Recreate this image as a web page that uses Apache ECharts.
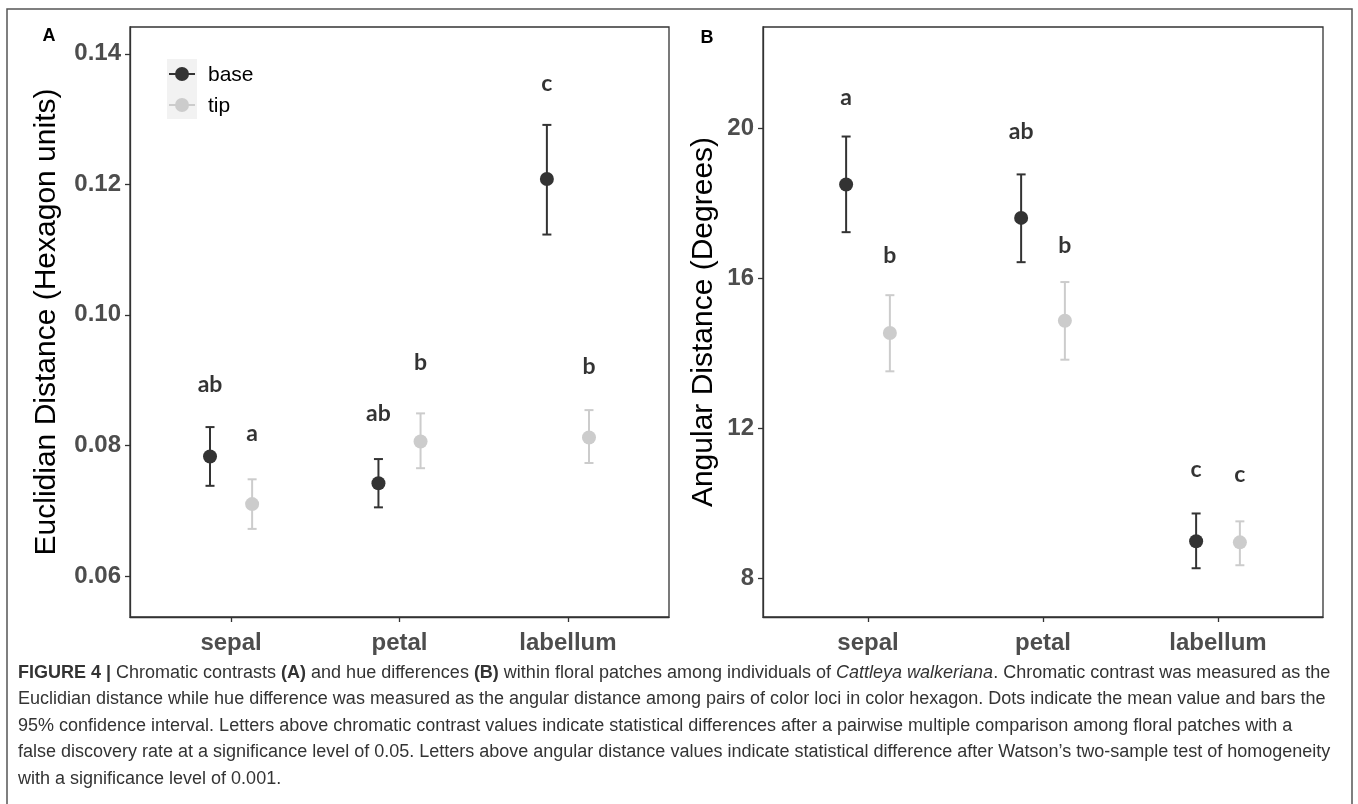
<!DOCTYPE html>
<html>
<head>
<meta charset="utf-8">
<script src="https://cdn.jsdelivr.net/npm/echarts@6/dist/echarts.min.js"></script>
<style>
  html, body { margin: 0; padding: 0; background: #fff; }
  #main { width: 1358px; height: 804px; }
</style>
</head>
<body>
<div id="main"></div>
<script>
// data
var categories = ['sepal', 'petal', 'labellum'];

// panel A - euclidian distance (hexagon units)
var euclidBaseMean = [0.0783, 0.0742, 0.1208];
var euclidBaseLow  = [0.0738, 0.0705, 0.1123];
var euclidBaseHigh = [0.0828, 0.0779, 0.1291];
var euclidTipMean  = [0.0710, 0.0806, 0.0812];
var euclidTipLow   = [0.0672, 0.0765, 0.0773];
var euclidTipHigh  = [0.0748, 0.0849, 0.0854];
var euclidBaseLetters = ['ab', 'ab', 'c'];
var euclidBaseLetterY = [0.0893, 0.0849, 0.1355];
var euclidTipLetters  = ['a', 'b', 'b'];
var euclidTipLetterY  = [0.0818, 0.0927, 0.0921];
var euclidTicks = [0.06, 0.08, 0.10, 0.12, 0.14];

// panel B - angular distance (degrees)
var angBaseMean = [18.49, 17.60, 8.98];
var angBaseLow  = [17.22, 16.42, 8.26];
var angBaseHigh = [19.77, 18.76, 9.72];
var angTipMean  = [14.53, 14.86, 8.95];
var angTipLow   = [13.51, 13.82, 8.34];
var angTipHigh  = [15.54, 15.89, 9.51];
var angBaseLetters = ['a', 'ab', 'c'];
var angBaseLetterY = [20.80, 19.90, 10.88];
var angTipLetters  = ['b', 'b', 'c'];
var angTipLetterY  = [16.60, 16.87, 10.75];
var angTicks = [8, 12, 16, 20];

var BASE = '#333333';
var TIP = '#cccccc';
var DODGE = 0.125;
var FONT = 'Liberation Sans, Arial, sans-serif';

function pts(mean, shift) {
  return mean.map(function (v, i) { return [i + 1 + shift, v]; });
}
function bars(low, high, shift) {
  return low.map(function (v, i) { return [i + 1 + shift, v, high[i]]; });
}
function letters(ys, txt, shift) {
  return ys.map(function (v, i) { return { value: [i + 1 + shift, v], name: txt[i] }; });
}

function errorBar(color) {
  return function (params, api) {
    var x = api.value(0);
    var lo = api.coord([x, api.value(1)]);
    var hi = api.coord([x, api.value(2)]);
    var w = 4.5;
    var st = { stroke: color, lineWidth: 2 };
    return {
      type: 'group',
      children: [
        { type: 'line', shape: { x1: lo[0], y1: lo[1], x2: hi[0], y2: hi[1] }, style: st },
        { type: 'line', shape: { x1: hi[0] - w, y1: hi[1], x2: hi[0] + w, y2: hi[1] }, style: st },
        { type: 'line', shape: { x1: lo[0] - w, y1: lo[1], x2: lo[0] + w, y2: lo[1] }, style: st }
      ]
    };
  };
}

function xAxis(idx) {
  return {
    type: 'value', gridIndex: idx, min: 0.4, max: 3.6,
    axisLine: { show: true, lineStyle: { color: '#333', width: 1.3 } },
    axisTick: { show: true, customValues: [1, 2, 3], length: 5, lineStyle: { color: '#333', width: 1.3 } },
    axisLabel: {
      customValues: [1, 2, 3], margin: 14,
      formatter: function (v) { return categories[Math.round(v) - 1]; },
      fontFamily: FONT, fontWeight: 'bold', fontSize: 24, color: '#4d4d4d'
    },
    splitLine: { show: false }
  };
}

function yAxis(idx, min, max, ticks, dec, name, gap) {
  return {
    type: 'value', gridIndex: idx, min: min, max: max,
    name: name, nameLocation: 'middle', nameGap: gap,
    nameTextStyle: { fontFamily: FONT, fontSize: 30, color: '#000' },
    axisLine: { show: true, lineStyle: { color: '#333', width: 1.3 } },
    axisTick: { show: true, customValues: ticks, length: 5, lineStyle: { color: '#333', width: 1.3 } },
    axisLabel: {
      customValues: ticks, margin: 9,
      formatter: function (v) { return v.toFixed(dec); },
      fontFamily: FONT, fontWeight: 'bold', fontSize: 24, color: '#4d4d4d'
    },
    splitLine: { show: false }
  };
}

function panelSeries(idx, bMean, bLow, bHigh, tMean, tLow, tHigh, bLet, bLetY, tLet, tLetY) {
  var letterLabel = {
    show: true, position: 'inside',
    formatter: function (p) { return p.name; },
    fontFamily: 'Lato, sans-serif', fontWeight: 'bold', fontSize: 23, color: '#000'
  };
  return [
    { type: 'custom', xAxisIndex: idx, yAxisIndex: idx, renderItem: errorBar(BASE), data: bars(bLow, bHigh, -DODGE), z: 2 },
    { type: 'custom', xAxisIndex: idx, yAxisIndex: idx, renderItem: errorBar(TIP), data: bars(tLow, tHigh, DODGE), z: 2 },
    { type: 'scatter', xAxisIndex: idx, yAxisIndex: idx, data: pts(bMean, -DODGE), symbolSize: 14,
      itemStyle: { color: BASE, opacity: 1 }, z: 3 },
    { type: 'scatter', xAxisIndex: idx, yAxisIndex: idx, data: pts(tMean, DODGE), symbolSize: 14,
      itemStyle: { color: TIP, opacity: 1 }, z: 3 },
    { type: 'scatter', xAxisIndex: idx, yAxisIndex: idx, data: letters(bLetY, bLet, -DODGE).concat(letters(tLetY, tLet, DODGE)),
      symbolSize: 0, label: letterLabel, z: 4 }
  ];
}

var captionLines = [
  '{b|FIGURE 4 |} Chromatic contrasts {b|(A)} and hue differences {b|(B)} within floral patches among individuals of {i|Cattleya walkeriana}. Chromatic contrast was measured as the',
  'Euclidian distance while hue difference was measured as the angular distance among pairs of color loci in color hexagon. Dots indicate the mean value and bars the',
  '95% confidence interval. Letters above chromatic contrast values indicate statistical differences after a pairwise multiple comparison among floral patches with a',
  'false discovery rate at a significance level of 0.05. Letters above angular distance values indicate statistical difference after Watson\u2019s two-sample test of homogeneity',
  'with a significance level of 0.001.'
];

var graphics = [
  { type: 'rect', shape: { x: 7, y: 9, width: 1345, height: 900 }, style: { fill: 'none', stroke: '#555', lineWidth: 1.5 }, silent: true },
  { type: 'text', x: 49, y: 36, style: { text: 'A', font: 'bold 18px ' + FONT, fill: '#000', textAlign: 'center', textVerticalAlign: 'middle' } },
  { type: 'text', x: 707, y: 38, style: { text: 'B', font: 'bold 18px ' + FONT, fill: '#000', textAlign: 'center', textVerticalAlign: 'middle' } },
  // legend
  { type: 'rect', shape: { x: 167, y: 59, width: 30, height: 30 }, style: { fill: '#f2f2f2' } },
  { type: 'rect', shape: { x: 167, y: 89, width: 30, height: 30 }, style: { fill: '#f2f2f2' } },
  { type: 'line', shape: { x1: 169, y1: 74, x2: 195, y2: 74 }, style: { stroke: BASE, lineWidth: 2 } },
  { type: 'circle', shape: { cx: 182, cy: 74, r: 7 }, style: { fill: BASE } },
  { type: 'line', shape: { x1: 169, y1: 105, x2: 195, y2: 105 }, style: { stroke: TIP, lineWidth: 2 } },
  { type: 'circle', shape: { cx: 182, cy: 105, r: 7 }, style: { fill: TIP } },
  { type: 'text', x: 208, y: 75, style: { text: 'base', font: '21px ' + FONT, fill: '#000', textVerticalAlign: 'middle' } },
  { type: 'text', x: 208, y: 106, style: { text: 'tip', font: '21px ' + FONT, fill: '#000', textVerticalAlign: 'middle' } }
];
captionLines.forEach(function (line, i) {
  graphics.push({
    type: 'text', left: 18, top: 664 + i * 26.5,
    style: {
      text: line, font: '18px ' + FONT, fill: '#333',
      rich: {
        b: { fontWeight: 'bold', fontSize: 18, fontFamily: FONT, fill: '#333' },
        i: { fontStyle: 'italic', fontSize: 18, fontFamily: FONT, fill: '#333' }
      }
    }
  });
});

var chart = echarts.init(document.getElementById('main'));
chart.setOption({
  animation: false,
  backgroundColor: '#fff',
  grid: [
    { left: 130, top: 27, width: 539, height: 590, show: true, borderColor: '#333', borderWidth: 1.3, backgroundColor: '#fff' },
    { left: 763, top: 27, width: 560, height: 590, show: true, borderColor: '#333', borderWidth: 1.3, backgroundColor: '#fff' }
  ],
  xAxis: [xAxis(0), xAxis(1)],
  yAxis: [
    yAxis(0, 0.0537, 0.1441, euclidTicks, 2, 'Euclidian Distance (Hexagon units)', 68),
    yAxis(1, 6.96, 22.69, angTicks, 0, 'Angular Distance (Degrees)', 44)
  ],
  series: panelSeries(0, euclidBaseMean, euclidBaseLow, euclidBaseHigh, euclidTipMean, euclidTipLow, euclidTipHigh,
      euclidBaseLetters, euclidBaseLetterY, euclidTipLetters, euclidTipLetterY)
    .concat(panelSeries(1, angBaseMean, angBaseLow, angBaseHigh, angTipMean, angTipLow, angTipHigh,
      angBaseLetters, angBaseLetterY, angTipLetters, angTipLetterY)),
  graphic: graphics
});
</script>
</body>
</html>
